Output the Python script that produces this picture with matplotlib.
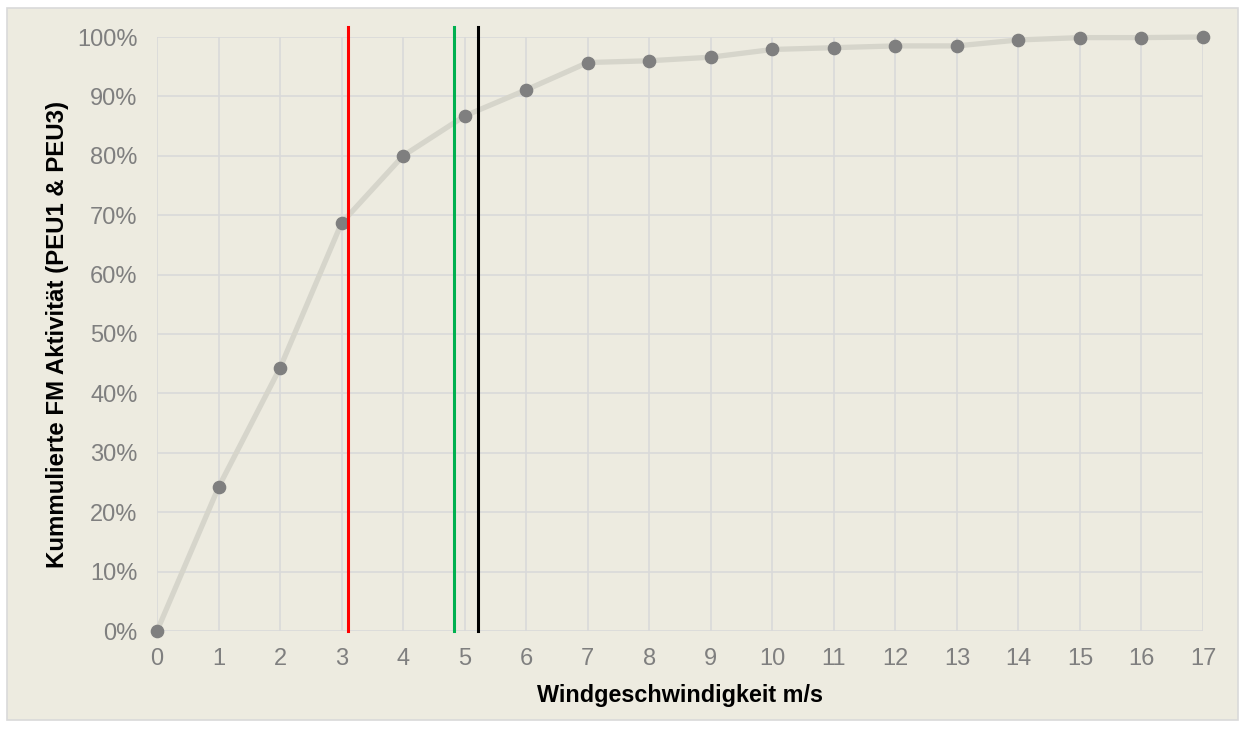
import numpy as np
import matplotlib.pyplot as plt
from matplotlib.patches import Rectangle
from matplotlib.ticker import PercentFormatter

plt.rcParams['font.family'] = ['Liberation Sans', 'DejaVu Sans']

# cumulative activity per wind speed
wind = list(range(0, 18))
cum = [0.0, 0.242, 0.443, 0.687, 0.800, 0.867, 0.911, 0.957, 0.960, 0.966,
       0.979, 0.982, 0.985, 0.985, 0.995, 0.999, 0.999, 1.0]

# vertical marker lines (wind speed, colour)
vlines_x = [3.1, 4.83, 5.22]
vlines_c = ['#FF0000', '#00B050', '#000000']
vline_top = 1.017

bg = '#EDEBE0'
fig = plt.figure(figsize=(12.44, 7.38), dpi=100)
fig.patch.set_facecolor('white')
fig.patches.append(Rectangle((7/1244, 1-720/738), (1238-7)/1244, (720-8)/738,
                             transform=fig.transFigure, facecolor=bg,
                             edgecolor='#D9D9D9', linewidth=1.2, zorder=-10))

ax = fig.add_axes([157/1244, 1-631/738, (1203-157)/1244, (631-37)/738])
ax.set_facecolor(bg)
for s in ax.spines.values():
    s.set_visible(False)

ax.grid(True, color='#D9D9D9', linewidth=1.2)
ax.set_axisbelow(True)

ax.plot(wind, cum, color='#D6D5CB', linewidth=3.8, zorder=2, clip_on=False)
ax.plot(wind, cum, 'o', color='#7F7F7F', markersize=8.8, zorder=4, clip_on=False)

for x, c in zip(vlines_x, vlines_c):
    ax.plot([x, x], [0, vline_top], color=c, linewidth=2.2, zorder=5, clip_on=False)

ax.set_xlim(0, 17)
ax.set_ylim(0, 1)
ax.set_xticks(range(0, 18))
ax.set_yticks(np.arange(0, 1.01, 0.1))
ax.yaxis.set_major_formatter(PercentFormatter(1.0, decimals=0))
ax.tick_params(length=0, labelsize=17, labelcolor='#7F7F7F')
ax.tick_params(axis='y', pad=14)
ax.tick_params(axis='x', pad=12)

ax.set_xlabel('Windgeschwindigkeit m/s', fontsize=16.8, fontweight='bold', labelpad=10)
ax.set_ylabel('Kummulierte FM Aktivität (PEU1 & PEU3)', fontsize=17.3, fontweight='bold', labelpad=6)

fig.savefig('out.png', dpi=100, facecolor='white')
